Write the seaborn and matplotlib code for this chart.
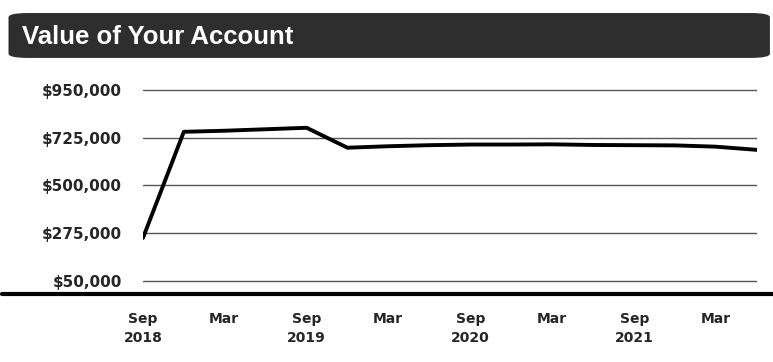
import matplotlib
matplotlib.use("Agg")
import matplotlib.pyplot as plt
from matplotlib.patches import FancyBboxPatch
import pandas as pd
import seaborn as sns

# quarterly account values
dates = pd.date_range("2018-09-01", periods=16, freq="3MS")
values = [252000, 752000, 757000, 764000, 771000, 677000, 684000, 689000,
          692000, 692000, 693000, 690000, 689000, 688000, 682000, 667000]

y_ticks = [50000, 275000, 500000, 725000, 950000]
x_ticks = pd.date_range("2018-09-01", periods=8, freq="6MS")
x_labels = ["Sep\n2018", "Mar", "Sep\n2019", "Mar", "Sep\n2020", "Mar", "Sep\n2021", "Mar"]
title = "Value of Your Account"

df = pd.DataFrame({"date": dates, "value": values})

sns.set_style("white")
plt.rcParams["font.family"] = ["DejaVu Sans"]

fig = plt.figure(figsize=(7.73, 3.62), dpi=100)
ax = fig.add_axes([0.185, 0.188, 0.794, 0.605])

for v in y_ticks:
    ax.axhline(v, color="#555555", lw=1.0, zorder=1)

sns.lineplot(data=df, x="date", y="value", ax=ax, color="black", lw=2.8, zorder=3)

ax.set_ylim(-12000, 1020000)
ax.set_xlim(pd.Timestamp("2018-09-01"), pd.Timestamp("2022-06-01"))
ax.set_yticks(y_ticks)
ax.set_yticklabels([f"${v:,.0f}" for v in y_ticks], fontsize=11, fontweight="bold")
ax.set_xticks(x_ticks)
ax.set_xticklabels(x_labels, fontsize=10, fontweight="bold", linespacing=1.5)
ax.tick_params(axis="y", length=0, pad=15)
ax.tick_params(axis="x", length=0, pad=13)
ax.set_xlabel("")
ax.set_ylabel("")
for s in ax.spines.values():
    s.set_visible(False)

# thick baseline running across the whole width
ax.axhline(-12000, xmin=-0.23, xmax=1.03, color="black", lw=3, clip_on=False, zorder=4)

# dark header bar
bar = FancyBboxPatch((0.011, 0.84), 0.985, 0.124, boxstyle="round,pad=0,rounding_size=0.025",
                     transform=fig.transFigure, facecolor="#2e2e2e", edgecolor="none",
                     mutation_aspect=362 / 773)
fig.add_artist(bar)
fig.text(0.028, 0.897, title, color="white", fontsize=18.5, fontweight="bold",
         family=["Liberation Sans Narrow", "Liberation Sans", "DejaVu Sans"], va="center")

fig.savefig("out.png", dpi=100)
